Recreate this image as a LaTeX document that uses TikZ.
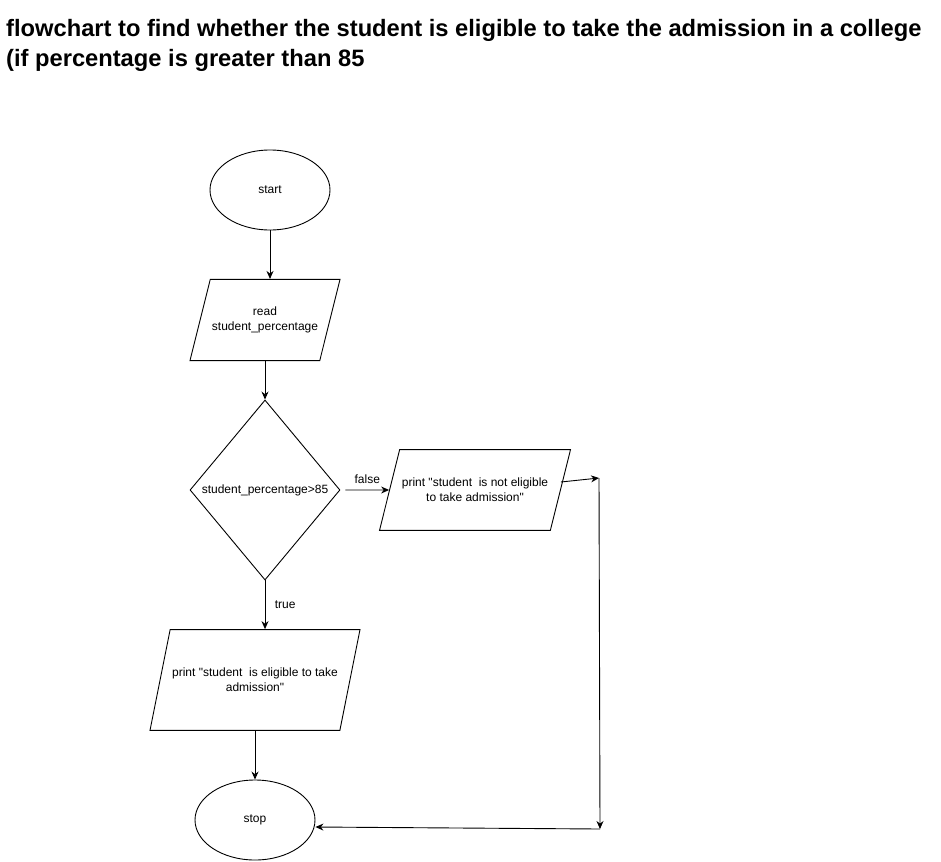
\documentclass[tikz,border=0pt]{standalone}
\usepackage{fontspec}
\setmainfont{Liberation Sans}
\usetikzlibrary{shapes.geometric,arrows.meta}

\tikzset{
  box/.style={draw, line width=0.9pt, font=\fontsize{12}{15}\selectfont, align=center, inner sep=1pt},
  terminal/.style={box, ellipse, minimum width=120pt, minimum height=80pt},
  iobox/.style={box, trapezium, trapezium stretches body=true},
  decision/.style={box, diamond, minimum width=150pt, minimum height=180pt, aspect=0.833},
  arr/.style={line width=0.9pt, -{Stealth[length=8pt,width=7pt]}},
  lbl/.style={font=\fontsize{12}{15}\selectfont}
}

\begin{document}
\begin{tikzpicture}[x=1pt, y=-1pt]
    \useasboundingbox (0,0) rectangle (941,861);

    % Title
    \node[anchor=base west, inner sep=0pt, font=\bfseries\fontsize{23.7}{28}\selectfont] (title1) at (6,37)
        {flowchart to find whether the student is eligible to take the admission in a college};
    \node[anchor=base west, inner sep=0pt, font=\bfseries\fontsize{23.7}{28}\selectfont] (title2) at (6,67)
        {(if percentage is greater than 85};

    % Flowchart nodes
    \node[terminal] (start) at (270,190) {start};
    \node[iobox, minimum width=150pt, inner ysep=27.5pt,
          trapezium left angle=76, trapezium right angle=104] (read) at (265,320)
        {read\\student\_percentage};
    \node[decision] (check) at (265,490) {student\_percentage>85};
    \node[iobox, minimum width=191pt, inner ysep=28.5pt,
          trapezium left angle=76, trapezium right angle=104] (notok) at (475,490)
        {print \textquotedbl student~ is not eligible\\to take admission\textquotedbl};
    \node[iobox, minimum width=210pt, inner ysep=38.5pt,
          trapezium left angle=78.7, trapezium right angle=101.3] (ok) at (255,680)
        {print \textquotedbl student~ is eligible to take\\admission\textquotedbl};
    \node[terminal] (stop) at (255,820) {stop};

    % Corner points of the false branch
    \coordinate (bend1) at (599,478);
    \coordinate (bend2) at (600,829);

    % Connectors
    \draw[arr] (start.south) -- (start.south |- read.north);
    \draw[arr] (check.north |- read.south) -- (check.north);
    \draw[arr] ([xshift=5pt]check.east) -- (notok.west) node[lbl, midway, above=3pt] {false};
    \draw[arr] (check.south) -- (check.south |- ok.north) node[lbl, midway, right=6pt] {true};
    \draw[arr] (stop.north |- ok.south) -- (stop.north);
    \draw[arr] ([yshift=8pt]notok.east) -- (bend1);
    \draw[arr] (bend1) -- (bend2);
    \draw[arr] (bend2) -- ([yshift=-7pt]stop.east);
\end{tikzpicture}
\end{document}
